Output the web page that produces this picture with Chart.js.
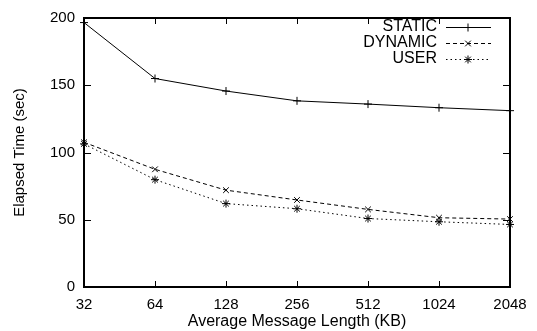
<!DOCTYPE html>
<html>
<head>
<meta charset="utf-8">
<script src="https://cdn.jsdelivr.net/npm/chart.js@4/dist/chart.umd.min.js"></script>
<style>
html,body{margin:0;padding:0;background:#fff;}
canvas{display:block;}
</style>
</head>
<body>
<canvas id="c" width="537" height="331"></canvas>
<script>
const categories = ['32', '64', '128', '256', '512', '1024', '2048'];
const staticValues = [196.6, 155, 145.7, 138.4, 136, 133.3, 131.1];
const dynamicValues = [107.6, 87.5, 72, 64.7, 57.7, 51.5, 50.5];
const userValues = [106.4, 79.8, 62, 58.2, 50.9, 48.5, 46.5];
const yTicks = [0, 50, 100, 150, 200];
const seriesNames = ['STATIC', 'DYNAMIC', 'USER'];

const FONT = 'Liberation Sans, Arial, Helvetica, sans-serif';

const framePlugin = {
  id: 'frame',
  afterDatasetsDraw(chart) {
    const ctx = chart.ctx;
    const a = chart.chartArea;
    const xs = chart.scales.x, ys = chart.scales.y;
    ctx.save();
    ctx.strokeStyle = '#000';
    ctx.lineWidth = 1;
    ctx.setLineDash([]);
    ctx.beginPath();
    yTicks.forEach(v => {
      const y = Math.round(ys.getPixelForValue(v)) + 0.5;
      ctx.moveTo(a.left, y); ctx.lineTo(a.left + 7, y);
      ctx.moveTo(a.right, y); ctx.lineTo(a.right - 7, y);
    });
    categories.forEach((c, i) => {
      const x = Math.round(xs.getPixelForValue(i)) + 0.5;
      ctx.moveTo(x, a.bottom); ctx.lineTo(x, a.bottom - 6);
      ctx.moveTo(x, a.top); ctx.lineTo(x, a.top + 6);
    });
    ctx.stroke();
    ctx.lineWidth = 2;
    ctx.strokeRect(Math.round(a.left), Math.round(a.top), Math.round(a.right - a.left), Math.round(a.bottom - a.top));
    // legend
    ctx.font = '16px ' + FONT;
    ctx.fillStyle = '#000';
    ctx.textAlign = 'right';
    ctx.textBaseline = 'middle';
    chart.data.datasets.forEach((ds, i) => {
      const y = 27 + 16 * i;
      ctx.fillText(ds.label, 437, y);
      ctx.lineWidth = 1;
      ctx.setLineDash(ds.borderDash || []);
      ctx.beginPath();
      ctx.moveTo(446, y + 0.5); ctx.lineTo(491, y + 0.5);
      ctx.stroke();
      ctx.setLineDash([]);
      Chart.helpers.drawPoint(ctx, {pointStyle: ds.pointStyle, radius: ds.pointRadius, borderWidth: 1, rotation: 0}, 468, y + 0.5);
    });
    ctx.restore();
  }
};

function makeSet(label, data, dash, style, r) {
  return {
    label: label, data: data,
    borderColor: '#000', backgroundColor: '#000',
    borderWidth: 1, borderDash: dash,
    pointStyle: style, pointRadius: r,
    pointBorderColor: '#000', pointBackgroundColor: '#000', pointBorderWidth: 1,
    tension: 0, fill: false
  };
}

new Chart(document.getElementById('c'), {
  type: 'line',
  data: {
    labels: categories,
    datasets: [
      makeSet(seriesNames[0], staticValues, [], 'cross', 4),
      makeSet(seriesNames[1], dynamicValues, [4, 3], 'crossRot', 4),
      makeSet(seriesNames[2], userValues, [1.5, 3], 'star', 4)
    ]
  },
  options: {
    responsive: false,
    animation: false,
    devicePixelRatio: 1,
    layout: {padding: {top: 12, right: 27, left: 0, bottom: 0}},
    plugins: {legend: {display: false}, tooltip: {enabled: false}},
    scales: {
      x: {
        type: 'category', offset: false,
        grid: {display: false, drawTicks: false}, border: {display: false},
        ticks: {font: {family: FONT, size: 15}, color: '#000', padding: 9, maxRotation: 0, autoSkip: false},
        title: {display: true, text: 'Average Message Length (KB)', font: {family: FONT, size: 16}, color: '#000', padding: {top: 9, bottom: 0}},
        afterFit: s => { s.height = 44; }
      },
      y: {
        min: 0, max: 200,
        grid: {display: false, drawTicks: false}, border: {display: false},
        ticks: {stepSize: 50, font: {family: FONT, size: 15}, color: '#000', padding: 9},
        title: {display: true, text: 'Elapsed Time (sec)', font: {family: FONT, size: 15}, color: '#000', padding: {top: 11, bottom: 0}},
        afterFit: s => { s.width = 84; }
      }
    }
  },
  plugins: [framePlugin]
});
</script>
</body>
</html>
